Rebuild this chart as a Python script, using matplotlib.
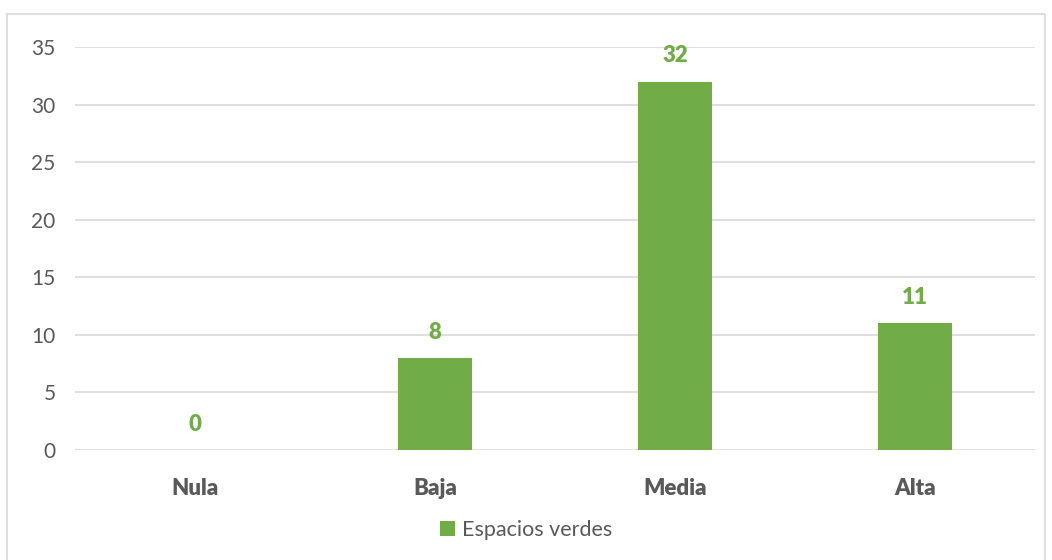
import numpy as np
import matplotlib.pyplot as plt
from matplotlib.patches import Rectangle

categorias = ['Nula', 'Baja', 'Media', 'Alta']
valores = [0, 8, 32, 11]
serie = 'Espacios verdes'
yticks = [0, 5, 10, 15, 20, 25, 30, 35]

verde = '#70AD47'
gris = '#595959'

plt.rcParams['font.family'] = ['Lato', 'DejaVu Sans']

fig = plt.figure(figsize=(10.52, 5.6), dpi=100)
ax = fig.add_axes([0.0713, 0.1964, 0.9127, 0.7196])

x = np.arange(len(categorias))
ax.bar(x, valores, width=0.31, color=verde, label=serie, zorder=3)

# etiquetas de datos
for xi, v in zip(x, valores):
    ax.annotate(str(v), (xi, v), xytext=(0, 11), textcoords='offset points',
                ha='center', va='bottom', color=verde, fontsize=16, fontweight='heavy')

ax.set_xlim(-0.5, len(categorias) - 0.5)
ax.set_ylim(0, 35)
ax.set_yticks(yticks)
ax.set_xticks(x)
ax.set_xticklabels(categorias, fontweight='heavy', fontsize=16, color=gris)
ax.tick_params(axis='y', labelsize=15, colors=gris, length=0, pad=14)
ax.tick_params(axis='x', length=0, pad=20)
ax.grid(axis='y', color='#D9D9D9', linewidth=1.2, zorder=0)
for s in ax.spines.values():
    s.set_visible(False)

leg = ax.legend(loc='center', bbox_to_anchor=(0.5, 1 - 530 / 560), bbox_transform=fig.transFigure,
                frameon=False, fontsize=15.5, handlelength=0.7, handleheight=0.7,
                handletextpad=0.35)
for t in leg.get_texts():
    t.set_color(gris)

# borde exterior del gráfico
fig.patches.append(Rectangle((7 / 1052, -0.01), 1038 / 1052, 1 - 14 / 560 + 0.01,
                             transform=fig.transFigure, fill=False,
                             edgecolor='#D9D9D9', linewidth=1.2))

fig.savefig('out.png', dpi=100)
